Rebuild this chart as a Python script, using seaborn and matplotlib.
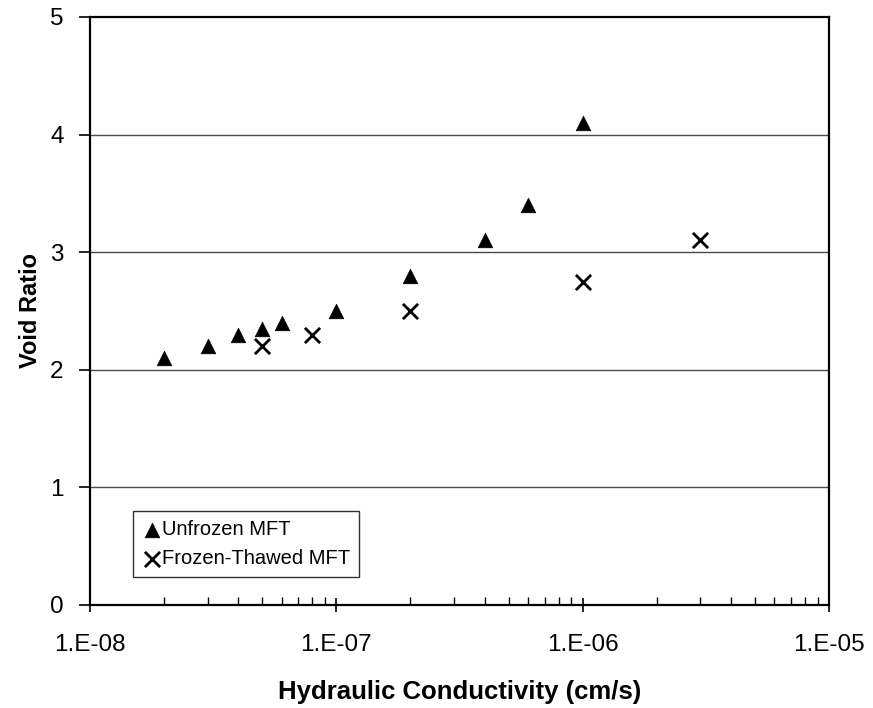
import pandas as pd
import seaborn as sns
import matplotlib.pyplot as plt
from matplotlib.ticker import LogLocator, FixedLocator, NullFormatter

# data
unfrozen_k = [2e-8, 3e-8, 4e-8, 5e-8, 6e-8, 1e-7, 2e-7, 4e-7, 6e-7, 1e-6]
unfrozen_e = [2.10, 2.20, 2.30, 2.35, 2.40, 2.50, 2.80, 3.10, 3.40, 4.10]
thawed_k = [5e-8, 8e-8, 2e-7, 1e-6, 3e-6]
thawed_e = [2.20, 2.30, 2.50, 2.75, 3.10]
x_ticks = [1e-8, 1e-7, 1e-6, 1e-5]
x_labels = ["1.E-08", "1.E-07", "1.E-06", "1.E-05"]
y_ticks = [0, 1, 2, 3, 4, 5]

df = pd.concat([
    pd.DataFrame({"k": unfrozen_k, "e": unfrozen_e, "series": "Unfrozen MFT"}),
    pd.DataFrame({"k": thawed_k, "e": thawed_e, "series": "Frozen-Thawed MFT"}),
])

sns.set_style("white")
plt.rcParams["font.family"] = ["Liberation Sans", "DejaVu Sans"]
plt.rcParams["text.color"] = "black"
plt.rcParams["axes.labelcolor"] = "black"
plt.rcParams["xtick.color"] = "black"
plt.rcParams["ytick.color"] = "black"

fig = plt.figure(figsize=(8.73, 7.08), dpi=100)
ax = fig.add_axes([0.1031, 0.1455, 0.8465, 0.8305])

# gridlines first so markers sit on top
for y in y_ticks[1:-1]:
    ax.axhline(y, color="#4a4a4a", lw=1.0, zorder=0)

sns.scatterplot(data=df[df.series == "Unfrozen MFT"], x="k", y="e", marker="^",
                s=110, color="black", edgecolor="black", linewidth=0.5,
                label="Unfrozen MFT", ax=ax, zorder=3)
sns.scatterplot(data=df[df.series == "Frozen-Thawed MFT"], x="k", y="e", marker="x",
                s=120, color="black", linewidth=2.0,
                label="Frozen-Thawed MFT", ax=ax, zorder=3)

ax.set_xscale("log")
ax.set_xlim(1e-8, 1e-5)
ax.set_ylim(0, 5)
ax.xaxis.set_major_locator(FixedLocator(x_ticks))
ax.set_xticklabels(x_labels)
ax.xaxis.set_minor_locator(LogLocator(base=10, subs=range(2, 10)))
ax.xaxis.set_minor_formatter(NullFormatter())
ax.set_yticks(y_ticks)

ax.tick_params(axis="x", which="major", direction="inout", length=10, width=1.2,
               labelsize=17.5, pad=16, bottom=True)
ax.tick_params(axis="x", which="minor", direction="in", length=6, width=1, bottom=True)
ax.tick_params(axis="y", which="major", direction="out", length=8, width=1.2,
               labelsize=17.5, pad=11, left=True)

for sp in ax.spines.values():
    sp.set_color("black")
    sp.set_linewidth(1.6)

ax.set_xlabel("Hydraulic Conductivity (cm/s)", fontsize=18.5, fontweight="bold", labelpad=17)
ax.set_ylabel("Void Ratio", fontsize=17, fontweight="bold", labelpad=6)

leg = ax.legend(loc="lower left", bbox_to_anchor=(0.058, 0.047), fontsize=14.5,
                frameon=True, fancybox=False, edgecolor="black", handletextpad=0.0,
                handlelength=1.0, borderpad=0.45, labelspacing=0.5, borderaxespad=0)
leg.get_frame().set_linewidth(1.0)

plt.savefig("out.png", dpi=100)
